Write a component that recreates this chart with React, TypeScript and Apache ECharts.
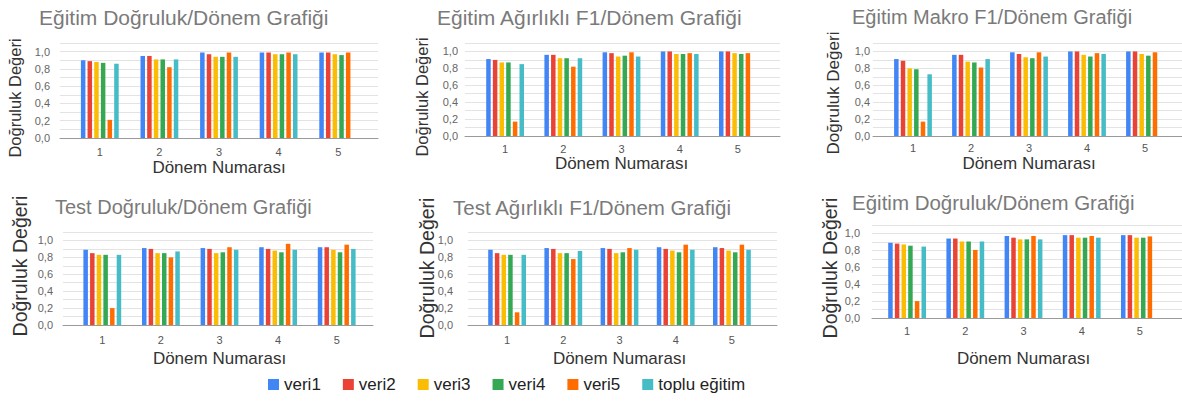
import React, { useEffect, useRef } from "react";
import * as echarts from "echarts";

const categories = ["1", "2", "3", "4", "5"];
const seriesNames = ["veri1", "veri2", "veri3", "veri4", "veri5", "toplu eğitim"];
const seriesColors = ["#4285F4", "#EA4335", "#FBBC04", "#34A853", "#FF6D01", "#46BDC6"];
const panelTitles = [
  "Eğitim Doğruluk/Dönem Grafiği",
  "Eğitim Ağırlıklı F1/Dönem Grafiği",
  "Eğitim Makro F1/Dönem Grafiği",
  "Test Doğruluk/Dönem Grafiği",
  "Test Ağırlıklı F1/Dönem Grafiği",
  "Eğitim Doğruluk/Dönem Grafiği",
];
const yAxisTitle = "Doğruluk Değeri";
const xAxisTitle = "Dönem Numarası";
const yTickLabels = ["0,0", "0,2", "0,4", "0,6", "0,8", "1,0"];

// each panel: rows in the order of seriesNames, values per category (null = missing)
const egitimDogruluk = [
  [0.9, 0.95, 0.99, 0.99, 0.99],
  [0.89, 0.95, 0.97, 0.99, 0.99],
  [0.88, 0.91, 0.94, 0.97, 0.97],
  [0.87, 0.91, 0.94, 0.97, 0.96],
  [0.21, 0.82, 0.99, 0.99, 0.99],
  [0.86, 0.91, 0.94, 0.97, null],
];
const egitimAgirlikliF1 = [
  [0.91, 0.96, 0.99, 1.0, 1.0],
  [0.9, 0.96, 0.98, 1.0, 1.0],
  [0.87, 0.92, 0.94, 0.97, 0.98],
  [0.87, 0.92, 0.95, 0.97, 0.97],
  [0.17, 0.82, 0.99, 0.98, 0.98],
  [0.85, 0.92, 0.94, 0.97, null],
];
const egitimMakroF1 = [
  [0.91, 0.96, 0.99, 1.0, 1.0],
  [0.89, 0.96, 0.97, 1.0, 1.0],
  [0.8, 0.88, 0.93, 0.96, 0.97],
  [0.79, 0.87, 0.92, 0.94, 0.95],
  [0.17, 0.81, 0.99, 0.98, 0.99],
  [0.73, 0.91, 0.94, 0.97, null],
];
const testDogruluk = [
  [0.89, 0.91, 0.91, 0.92, 0.92],
  [0.85, 0.9, 0.9, 0.9, 0.92],
  [0.83, 0.85, 0.85, 0.88, 0.89],
  [0.83, 0.85, 0.86, 0.86, 0.86],
  [0.2, 0.8, 0.92, 0.96, 0.95],
  [0.83, 0.87, 0.89, 0.89, 0.9],
];
const testAgirlikliF1 = [
  [0.89, 0.91, 0.91, 0.92, 0.92],
  [0.85, 0.9, 0.9, 0.9, 0.91],
  [0.83, 0.85, 0.85, 0.88, 0.88],
  [0.83, 0.85, 0.86, 0.86, 0.86],
  [0.15, 0.78, 0.91, 0.95, 0.95],
  [0.83, 0.875, 0.89, 0.89, 0.89],
];
const egitimDogruluk2 = [
  [0.89, 0.94, 0.97, 0.98, 0.98],
  [0.88, 0.94, 0.95, 0.98, 0.98],
  [0.87, 0.905, 0.93, 0.95, 0.95],
  [0.855, 0.905, 0.93, 0.95, 0.95],
  [0.2, 0.805, 0.97, 0.97, 0.965],
  [0.845, 0.905, 0.93, 0.95, null],
];
const panelData = [egitimDogruluk, egitimAgirlikliF1, egitimMakroF1, testDogruluk, testAgirlikliF1, egitimDogruluk2];

// layout (pixels)
const layouts = [
  { titleX: 39, titleY: 18, titleSize: 21, left: 60, right: 378, top: 43, bottom: 138, barLeft: 70, barWidth: 298, yNameX: 15, yNameY: 98, yNameSize: 16.5, yLabelRight: 50, xLabelY: 152, xNameY: 167 },
  { titleX: 437, titleY: 18, titleSize: 21, left: 465, right: 780, top: 43, bottom: 136, barLeft: 476, barWidth: 291, yNameX: 422, yNameY: 97, yNameSize: 16.5, yLabelRight: 458, xLabelY: 149, xNameY: 163 },
  { titleX: 852, titleY: 18, titleSize: 20, left: 873, right: 1182, top: 43, bottom: 136, barLeft: 884, barWidth: 290, yNameX: 833, yNameY: 93, yNameSize: 17, yLabelRight: 870, xLabelY: 148, xNameY: 163 },
  { titleX: 55, titleY: 208, titleSize: 20, left: 63, right: 373, top: 232, bottom: 325, barLeft: 73, barWidth: 293, yNameX: 20, yNameY: 266, yNameSize: 19.5, yLabelRight: 53, xLabelY: 340, xNameY: 358 },
  { titleX: 453, titleY: 208, titleSize: 20.5, left: 468, right: 777, top: 232, bottom: 325, barLeft: 479, barWidth: 281, yNameX: 427, yNameY: 268, yNameSize: 19.5, yLabelRight: 453, xLabelY: 340, xNameY: 358 },
  { titleX: 852, titleY: 203, titleSize: 20.5, left: 872, right: 1182, top: 225, bottom: 318, barLeft: 878, barWidth: 291, yNameX: 830, yNameY: 268, yNameSize: 19.5, yLabelRight: 860, xLabelY: 331, xNameY: 358 },
];

const FONT = "'Liberation Sans', Arial, sans-serif";
const LABEL_SIZE = 11;
const X_NAME_SIZE = 17;

function buildOption() {
  const title: any[] = [];
  const grid: any[] = [];
  const xAxis: any[] = [];
  const yAxis: any[] = [];
  const series: any[] = [];
  const graphic: any[] = [];

  layouts.forEach((L, p) => {
    title.push({
      text: panelTitles[p],
      left: L.titleX,
      top: L.titleY - L.titleSize / 2 - 1,
      padding: 0,
      textStyle: { fontFamily: FONT, fontSize: L.titleSize, fontWeight: "normal", color: "#7a7a7a" },
    });
    graphic.push({
      type: "text",
      x: L.yNameX,
      y: L.yNameY,
      rotation: Math.PI / 2,
      silent: true,
      style: {
        text: yAxisTitle,
        fontFamily: FONT,
        fontSize: L.yNameSize,
        fill: "#333",
        align: "center",
        verticalAlign: "middle",
      },
    });
    const h = L.bottom - L.top;
    // background grid (gridlines, y labels, baseline)
    const gA = grid.length;
    grid.push({ left: L.left, top: L.top, width: L.right - L.left, height: h, containLabel: false });
    xAxis.push({
      type: "value",
      gridIndex: gA,
      min: 0,
      max: 1,
      axisLine: { show: true, lineStyle: { color: "#9a9a9a", width: 1 } },
      axisTick: { show: false },
      axisLabel: { show: false },
      splitLine: { show: false },
    });
    yAxis.push({
      type: "value",
      gridIndex: gA,
      min: 0,
      max: 1.1,
      interval: 0.1,
      axisLine: { show: false },
      axisTick: { show: false },
      axisLabel: {
        margin: L.left - L.yLabelRight,
        fontFamily: FONT,
        fontSize: LABEL_SIZE,
        color: "#666",
        formatter: (v: number) => {
          const k = Math.round(v * 10);
          return k % 2 === 0 && k / 2 < yTickLabels.length ? yTickLabels[k / 2] : "";
        },
      },
      splitLine: { show: true, lineStyle: { color: "#e3e3e3", width: 1 } },
    });
    // bar grid
    const gB = grid.length;
    grid.push({ left: L.barLeft, top: L.top, width: L.barWidth, height: h, containLabel: false });
    xAxis.push({
      type: "category",
      gridIndex: gB,
      data: categories,
      name: xAxisTitle,
      nameLocation: "middle",
      nameGap: L.xNameY - L.bottom - X_NAME_SIZE / 2,
      nameTextStyle: { fontFamily: FONT, fontSize: X_NAME_SIZE, color: "#333" },
      axisLine: { show: false },
      axisTick: { show: false },
      axisLabel: { margin: L.xLabelY - L.bottom - LABEL_SIZE / 2, fontFamily: FONT, fontSize: LABEL_SIZE, color: "#555" },
      splitLine: { show: false },
    });
    yAxis.push({ type: "value", gridIndex: gB, min: 0, max: 1.1, show: false, splitLine: { show: false } });

    panelData[p].forEach((row, s) => {
      series.push({
        type: "bar",
        name: seriesNames[s],
        xAxisIndex: gB,
        yAxisIndex: gB,
        data: row.map((v) => (v === null ? "-" : v)),
        barWidth: 4.5,
        barGap: "48%",
        itemStyle: { color: seriesColors[s] },
        emphasis: { disabled: true },
      });
    });
  });

  return {
    animation: false,
    backgroundColor: "#ffffff",
    color: seriesColors,
    title,
    grid,
    xAxis,
    yAxis,
    series,
    graphic,
    legend: {
      data: seriesNames,
      left: 268,
      top: 376,
      padding: 0,
      itemWidth: 11,
      itemHeight: 11,
      itemGap: 22,
      icon: "rect",
      selectedMode: false,
      textStyle: { fontFamily: FONT, fontSize: 17, color: "#222" },
    },
  };
}

export default function App() {
  const ref = useRef<HTMLDivElement>(null);
  useEffect(() => {
    document.body.style.margin = "0";
    if (!ref.current) return;
    const chart = echarts.init(ref.current, undefined, { renderer: "svg" });
    chart.setOption(buildOption() as any);
    return () => chart.dispose();
  }, []);
  return <div ref={ref} style={{ width: 1182, height: 410 }} />;
}
